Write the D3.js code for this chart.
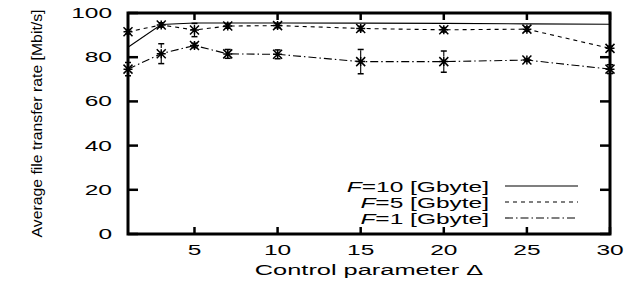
<!DOCTYPE html>
<html><head><meta charset="utf-8">
<script src="https://cdn.jsdelivr.net/npm/d3@7/dist/d3.min.js"></script>
<style>body{margin:0;background:#fff}svg{display:block}text{font-family:"Liberation Sans",Arial,sans-serif;fill:#000}</style>
</head><body>
<svg id="c" width="640" height="286"></svg>
<script>
const deltas = [1, 3, 5, 7, 10, 15, 20, 25, 30];
const f10 = [84.5, 94.8, 95.5, 95.5, 95.5, 95.4, 95.3, 95.1, 94.9];
const f5 = [91.5, 94.6, 92.3, 94.1, 94.3, 93.0, 92.4, 92.7, 84.0];
const f5Err = [1, 1, 3, 1, 1, 1, 1, 1, 1];
const f1 = [74.6, 81.6, 85.3, 81.5, 81.3, 78.0, 78.0, 78.7, 74.6];
const f1Err = [3, 4.5, 1, 2, 2, 5.5, 4.8, 0.5, 2];
const xTicks = [5, 10, 15, 20, 25, 30];
const yTicks = [0, 20, 40, 60, 80, 100];
const seriesNames = ["10", "5", "1"];

const svg = d3.select("#c");
const L = 128, R = 610, T = 13, B = 234;
const x = d3.scaleLinear().domain([1, 30]).range([L, R]);
const y = d3.scaleLinear().domain([0, 100]).range([B, T]);
const SX = 1.75;

function htext(px, py, str, anchor, size) {
  const g = svg.append("g").attr("transform", `translate(${px},${py}) scale(${SX},1)`);
  return g.append("text").attr("text-anchor", anchor).attr("font-size", size).text(str);
}

const series = [
  {vals: f10, err: null, dash: null, marks: false},
  {vals: f5, err: f5Err, dash: "4,4", marks: true},
  {vals: f1, err: f1Err, dash: "8,3,1.5,3", marks: true}
];

const line = d3.line().x((d, i) => x(deltas[i])).y(d => y(d));
series.forEach(s => {
  const g = svg.append("g");
  g.append("path").attr("d", line(s.vals)).attr("fill", "none").attr("stroke", "#000")
    .attr("stroke-width", 1.1).attr("stroke-dasharray", s.dash);
  if (s.err) {
    s.vals.forEach((v, i) => {
      const cx = x(deltas[i]), y0 = y(v - s.err[i]), y1 = y(v + s.err[i]);
      g.append("line").attr("x1", cx).attr("x2", cx).attr("y1", y0).attr("y2", y1)
        .attr("stroke", "#000").attr("stroke-width", 1.1).attr("stroke-dasharray", s.dash);
      [y0, y1].forEach(yy => g.append("line").attr("x1", cx - 3).attr("x2", cx + 3)
        .attr("y1", yy).attr("y2", yy).attr("stroke", "#000").attr("stroke-width", 1.5));
    });
  }
  if (s.marks) {
    s.vals.forEach((v, i) => {
      const cx = x(deltas[i]), cy = y(v), r = 4.5;
      const p = `M${cx - r},${cy}H${cx + r}M${cx},${cy - r}V${cy + r}` +
        `M${cx - r},${cy - r}L${cx + r},${cy + r}M${cx - r},${cy + r}L${cx + r},${cy - r}`;
      g.append("path").attr("d", p).attr("stroke", "#000").attr("stroke-width", 1.5).attr("fill", "none");
    });
  }
});

// ticks
yTicks.forEach(t => {
  svg.append("line").attr("x1", L).attr("x2", L + 10).attr("y1", y(t)).attr("y2", y(t)).attr("stroke", "#000").attr("stroke-width", 2.5);
  svg.append("line").attr("x1", R).attr("x2", R - 10).attr("y1", y(t)).attr("y2", y(t)).attr("stroke", "#000").attr("stroke-width", 2.5);
  htext(112, y(t) + 5, String(t), "end", 14);
});
xTicks.forEach(t => {
  svg.append("line").attr("x1", x(t)).attr("x2", x(t)).attr("y1", B).attr("y2", B - 7).attr("stroke", "#000").attr("stroke-width", 2.5);
  svg.append("line").attr("x1", x(t)).attr("x2", x(t)).attr("y1", T).attr("y2", T + 7).attr("stroke", "#000").attr("stroke-width", 2.5);
  htext(x(t), 255, String(t), "middle", 14);
});

svg.append("rect").attr("x", L).attr("y", T).attr("width", R - L).attr("height", B - T)
  .attr("fill", "none").attr("stroke", "#000").attr("stroke-width", 3);

// axis titles
htext((L + R) / 2, 275, "Control parameter \u0394", "middle", 14.5);
svg.append("text").attr("transform", `translate(42,${(T + B) / 2}) rotate(-90)`)
  .attr("text-anchor", "middle").attr("font-size", 14.5)
  .attr("textLength", 228).attr("lengthAdjust", "spacingAndGlyphs")
  .text("Average file transfer rate [Mbit/s]");

// legend
const baselines = [191.5, 207.5, 223.5];
series.forEach((s, i) => {
  const t = htext(489, baselines[i], "", "end", 14);
  t.append("tspan").attr("font-style", "italic").text("F");
  t.append("tspan").text("=" + seriesNames[i] + " [Gbyte]");
  svg.append("line").attr("x1", 505).attr("x2", 578).attr("y1", baselines[i] - 5.5).attr("y2", baselines[i] - 5.5)
    .attr("stroke", "#000").attr("stroke-width", 1.1).attr("stroke-dasharray", s.dash);
});
</script>
</body></html>
